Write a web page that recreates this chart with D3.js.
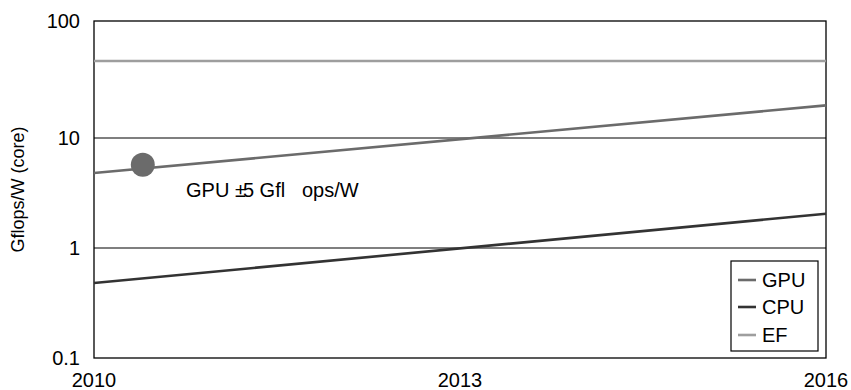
<!DOCTYPE html>
<html>
<head>
<meta charset="utf-8">
<script src="https://cdn.jsdelivr.net/npm/d3@7"></script>
<style>
  body { margin: 0; background: #fff; }
  svg { display: block; font-family: "Liberation Sans", Arial, sans-serif; }
</style>
</head>
<body>
<svg id="chart" width="851" height="390"></svg>
<script>
// Efficiency trend lines (Gflops/W per core), endpoints per year
const years = [2010, 2016];
const gpuValues = [4.8, 19.0];
const cpuValues = [0.48, 2.05];
const efValues = [45.5, 45.5];
const seriesNames = ["GPU", "CPU", "EF"];
const seriesColors = ["#6b6b6b", "#333333", "#9e9e9e"];

// Marked point on the GPU trend
const markerYear = [2010.4];
const markerValue = [5.7];
const annotation = ["GPU ", "±", "5", " Gfl", "ops/W"];

const yTicks = [0.1, 1, 10, 100];
const xTicks = [2010, 2013, 2016];

const svg = d3.select("#chart");
const plotLeft = 94, plotRight = 826, plotTop = 21, plotBottom = 358;

const x = d3.scaleLinear().domain([2010, 2016]).range([plotLeft, plotRight]);
const y = d3.scaleLog().domain([0.1, 1, 10, 100]).range([plotBottom, 248, 138, plotTop]);

// Horizontal gridlines
svg.append("g").selectAll("line").data(yTicks.slice(1, 3)).join("line")
  .attr("x1", plotLeft).attr("x2", plotRight)
  .attr("y1", d => y(d)).attr("y2", d => y(d))
  .attr("stroke", "#000").attr("stroke-width", 1.2);

// Plot frame
svg.append("rect")
  .attr("x", plotLeft).attr("y", plotTop)
  .attr("width", plotRight - plotLeft).attr("height", plotBottom - plotTop)
  .attr("fill", "none").attr("stroke", "#000").attr("stroke-width", 1.3);

// Y tick labels
svg.append("g").selectAll("text").data(yTicks).join("text")
  .attr("x", 80).attr("y", d => y(d)).attr("dy", "0.35em")
  .attr("text-anchor", "end").attr("font-size", 20).attr("fill", "#000")
  .text(d => d3.format("~g")(d));

// X tick labels
svg.append("g").selectAll("text").data(xTicks).join("text")
  .attr("x", d => x(d)).attr("y", 387)
  .attr("text-anchor", "middle").attr("font-size", 20).attr("fill", "#000")
  .text(d => d);

// Y axis title
svg.append("text")
  .attr("transform", `translate(24,${(plotTop + plotBottom) / 2}) rotate(-90)`)
  .attr("text-anchor", "middle").attr("font-size", 18).attr("fill", "#000")
  .text("Gflops/W (core)");

// Trend lines
const series = [gpuValues, cpuValues, efValues];
const line = d3.line().x(d => x(d[0])).y(d => y(d[1]));
[2, 1, 0].forEach(i => {
  svg.append("path")
    .datum(years.map((yr, k) => [yr, series[i][k]]))
    .attr("d", line)
    .attr("fill", "none")
    .attr("stroke", seriesColors[i])
    .attr("stroke-width", 2.6);
});

// Marker on GPU trend
svg.append("circle")
  .attr("cx", x(markerYear[0])).attr("cy", y(markerValue[0]))
  .attr("r", 12).attr("fill", "#6b6b6b");

// Annotation text
const ann = svg.append("text")
  .attr("x", 186).attr("y", 197)
  .attr("font-size", 20).attr("fill", "#000")
  .style("white-space", "pre");
ann.append("tspan").text(annotation[0]);
ann.append("tspan").text(annotation[1]);
ann.append("tspan").attr("dx", -3).text(annotation[2]);
ann.append("tspan").text(annotation[3]);
ann.append("tspan").attr("x", 302).text(annotation[4]);

// Legend
const lg = svg.append("g");
lg.append("rect")
  .attr("x", 731).attr("y", 261).attr("width", 87).attr("height", 90)
  .attr("fill", "#fff").attr("stroke", "#000").attr("stroke-width", 1.2);
const legendY = [280, 307, 335];
seriesNames.forEach((name, i) => {
  lg.append("line")
    .attr("x1", 738).attr("x2", 756)
    .attr("y1", legendY[i]).attr("y2", legendY[i])
    .attr("stroke", seriesColors[i]).attr("stroke-width", 2.6);
  lg.append("text")
    .attr("x", 762).attr("y", legendY[i]).attr("dy", "0.35em")
    .attr("font-size", 20).attr("fill", "#000")
    .text(name);
});
</script>
</body>
</html>
